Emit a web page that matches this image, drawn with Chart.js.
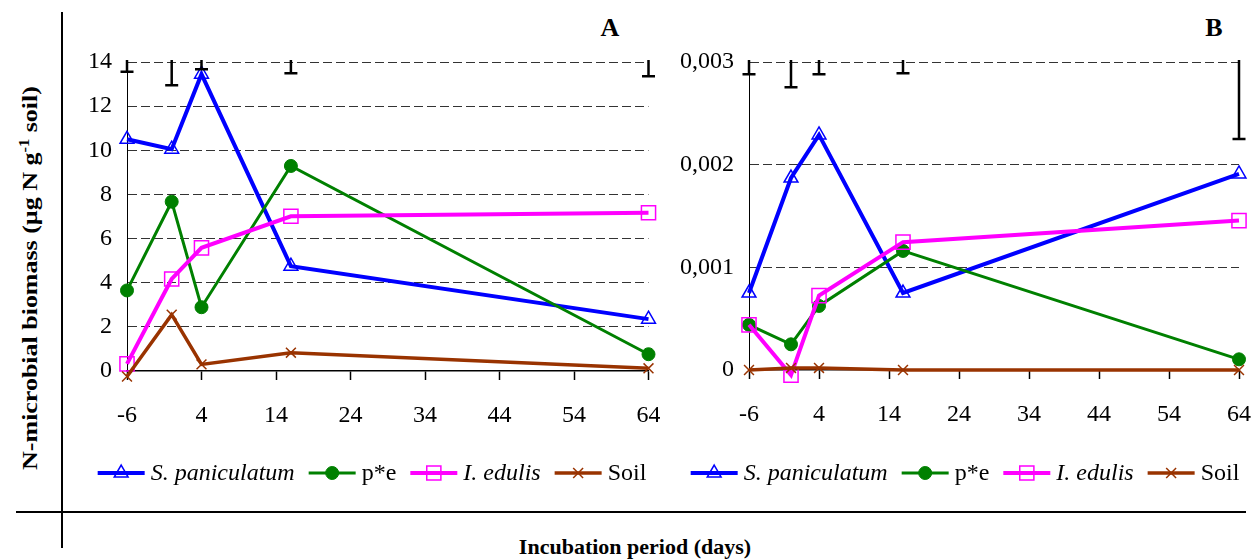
<!DOCTYPE html>
<html>
<head>
<meta charset="utf-8">
<script src="https://cdn.jsdelivr.net/npm/chart.js@4.4.1/dist/chart.umd.min.js"></script>
<style>
  body { margin: 0; background: #fff; width: 1255px; height: 559px; overflow: hidden; position: relative; font-family: "Liberation Serif", "Times New Roman", serif; }
  canvas { position: absolute; top: 0; }
  .rule { position: absolute; background: #000; }
  .lbl { position: absolute; font-weight: bold; white-space: nowrap; color: #000; }
</style>
</head>
<body>
<div class="rule" style="left:61px;top:12px;width:1.5px;height:536px"></div>
<div class="rule" style="left:16px;top:511px;width:1230px;height:1.5px"></div>
<div class="lbl" style="left:30px;top:278px;font-size:22px;line-height:22px;transform:translate(-50%,-50%) rotate(-90deg) scaleX(1.18)">N-microbial biomass (µg N g<sup style="font-size:14px;line-height:0">-1</sup> soil)</div>
<div class="lbl" style="left:635px;top:536px;font-size:22px;line-height:22px;transform:translateX(-50%)">Incubation period (days)</div>
<div class="lbl" style="left:610px;top:15px;font-size:26px;line-height:26px;transform:translateX(-50%)">A</div>
<div class="lbl" style="left:1214px;top:15px;font-size:26px;line-height:26px;transform:translateX(-50%)">B</div>
<canvas id="chartA" width="598" height="510" style="left:62px"></canvas>
<canvas id="chartB" width="595" height="510" style="left:660px"></canvas>
<script>
// sampling days
const days = [-6, 0, 4, 16, 64];
const xTicks = [-6, 4, 14, 24, 34, 44, 54, 64];
const yTicksA = [0, 2, 4, 6, 8, 10, 12, 14];
const yTicksB = [0, 0.001, 0.002, 0.003];
const seriesNames = ['S. paniculatum', 'p*e', 'I. edulis', 'Soil'];

// panel A
const spanA = [10.5, 10.05, 13.45, 4.75, 2.35];
const peA = [3.65, 7.67, 2.89, 9.29, 0.76];
const edulisA = [0.32, 4.17, 5.58, 7.01, 7.17];
const soilA = [-0.25, 2.55, 0.3, 0.83, 0.12];
const errLowA = [13.56, 12.95, 13.67, 13.49, 13.36];

// panel B
const spanB = [0.00075, 0.00187, 0.00229, 0.00075, 0.00191];
const peB = [0.00044, 0.00025, 0.000624, 0.00116, 0.000104];
const edulisB = [0.00044, -0.00005, 0.000724, 0.001245, 0.001455];
const soilB = [0, 0.00002, 0.00002, 0, 0];
const errLowB = [0.00288, 0.002755, 0.00288, 0.00289, 0.00225];

const FONT = "'Liberation Serif', 'Times New Roman', serif";

const styles = [
  { color: '#0000ff', width: 4, point: 'triangle', radius: 8, fill: 'rgba(0,0,0,0)', pbw: 1.5, italic: true, order: 4 },
  { color: '#008000', width: 3, point: 'circle', radius: 6.5, fill: '#008000', pbw: 1, italic: false, order: 3 },
  { color: '#ff00ff', width: 4, point: 'rect', radius: 10, fill: 'rgba(0,0,0,0)', pbw: 1.5, italic: true, order: 2 },
  { color: '#993300', width: 3.5, point: 'crossRot', radius: 7, fill: 'rgba(0,0,0,0)', pbw: 1.5, italic: false, order: 1 },
];

function makeDatasets(values) {
  return values.map((vals, i) => {
    const s = styles[i];
    return {
      label: seriesNames[i],
      data: days.map((d, j) => ({ x: d, y: vals[j] })),
      borderColor: s.color,
      borderWidth: s.width,
      pointStyle: s.point,
      pointRadius: s.radius,
      pointBorderWidth: s.pbw,
      pointBorderColor: s.color,
      pointBackgroundColor: s.fill,
      legendItalic: s.italic,
      order: s.order,
      clip: false,
      tension: 0,
    };
  });
}

function drawMarker(ctx, ds, x, y) {
  ctx.strokeStyle = ds.pointBorderColor;
  ctx.fillStyle = ds.pointBackgroundColor;
  ctx.lineWidth = ds.pointBorderWidth;
  Chart.helpers.drawPoint(ctx, {
    pointStyle: ds.pointStyle,
    radius: ds.pointRadius,
    rotation: 0,
    borderWidth: ds.pointBorderWidth,
  }, x, y);
}

const lineLegend = {
  id: 'lineLegend',
  afterDraw(chart, args, opts) {
    const ctx = chart.ctx;
    const dsets = chart.data.datasets;
    const lineLen = 47, gapText = 6, gapItem = 14;
    ctx.save();
    const widths = dsets.map(ds => {
      ctx.font = (ds.legendItalic ? 'italic ' : '') + '24px ' + FONT;
      return ctx.measureText(ds.label).width;
    });
    let total = widths.reduce((a, w) => a + lineLen + gapText + w, 0) + gapItem * (dsets.length - 1);
    let x = opts.cx - total / 2;
    const y = opts.y;
    dsets.forEach((ds, i) => {
      ctx.strokeStyle = ds.borderColor;
      ctx.lineWidth = ds.borderWidth;
      ctx.beginPath();
      ctx.moveTo(x, y);
      ctx.lineTo(x + lineLen, y);
      ctx.stroke();
      drawMarker(ctx, ds, x + lineLen / 2, y);
      ctx.fillStyle = '#000';
      ctx.font = (ds.legendItalic ? 'italic ' : '') + '24px ' + FONT;
      ctx.textBaseline = 'middle';
      ctx.textAlign = 'left';
      ctx.fillText(ds.label, x + lineLen + gapText, y + 1);
      x += lineLen + gapText + widths[i] + gapItem;
    });
    ctx.restore();
  }
};

const errorBars = {
  id: 'errorBars',
  afterDatasetsDraw(chart, args, opts) {
    const { ctx, scales: { x, y } } = chart;
    ctx.save();
    ctx.strokeStyle = '#000';
    ctx.lineWidth = 2.5;
    days.forEach((d, i) => {
      const px = x.getPixelForValue(d);
      const top = y.getPixelForValue(opts.top) - 2;
      const bot = y.getPixelForValue(opts.low[i]);
      ctx.beginPath();
      ctx.moveTo(px, top);
      ctx.lineTo(px, bot);
      ctx.moveTo(px - 6.5, bot);
      ctx.lineTo(px + 6.5, bot);
      ctx.stroke();
    });
    ctx.restore();
  }
};

function makeChart(id, values, cfg) {
  return new Chart(document.getElementById(id), {
    type: 'line',
    data: { datasets: makeDatasets(values) },
    plugins: [errorBars, lineLegend],
    options: {
      responsive: false,
      animation: false,
      devicePixelRatio: 1,
      layout: { padding: { top: 62, right: cfg.padRight, bottom: 510 - cfg.bottom - 60, left: 0 } },
      plugins: {
        legend: { display: false },
        tooltip: { enabled: false },
        errorBars: { top: cfg.yMax, low: cfg.errLow },
        lineLegend: { cx: cfg.legendCx, y: 473 },
      },
      scales: {
        x: {
          type: 'linear',
          min: -6,
          max: 64,
          afterBuildTicks: s => { s.ticks = xTicks.map(v => ({ value: v })); },
          afterFit: s => { s.height = 60; s.paddingLeft = 0; s.paddingRight = 0; },
          grid: { drawOnChartArea: false, drawTicks: true, tickLength: 9, color: '#000', tickWidth: 1.5 },
          border: { display: true, color: '#000', width: 1.5 },
          ticks: { color: '#000', font: { family: FONT, size: 24 }, padding: 21, maxRotation: 0, autoSkip: false },
        },
        y: {
          min: 0,
          max: cfg.yMax,
          afterBuildTicks: s => { s.ticks = cfg.yTicks.map(v => ({ value: v })); },
          afterFit: s => { s.width = cfg.axisW; s.paddingTop = 0; s.paddingBottom = 0; },
          grid: {
            drawTicks: false,
            color: c => (c.tick && c.tick.value === 0 ? 'rgba(0,0,0,0)' : '#333'),
            lineWidth: 1,
          },
          border: { display: true, color: '#000', width: 1, dash: [9, 4] },
          ticks: { color: '#000', font: { family: FONT, size: 24 }, padding: 15, callback: cfg.fmt },
        },
      },
    },
  });
}

makeChart('chartA', [spanA, peA, edulisA, soilA], {
  yMax: 14, yTicks: yTicksA, errLow: errLowA, axisW: 65, padRight: 11, bottom: 371,
  legendCx: 310, fmt: v => String(v),
});
makeChart('chartB', [spanB, peB, edulisB, soilB], {
  yMax: 0.003, yTicks: yTicksB, errLow: errLowB, axisW: 89, padRight: 16, bottom: 370,
  legendCx: 305, fmt: v => (v === 0 ? '0' : v.toFixed(3).replace('.', ',')),
});
</script>
</body>
</html>
